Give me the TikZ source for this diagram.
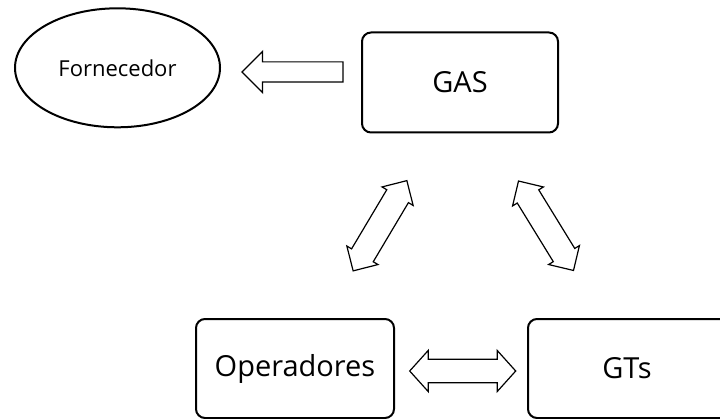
\documentclass[tikz,border=0pt]{standalone}
\usepackage{fontspec}
\setmainfont{Open Sans}
\usetikzlibrary{shapes.geometric,shapes.arrows}

\begin{document}
\begin{tikzpicture}[x=1pt, y=1pt,
        caixa/.style={draw, line width=2pt, rounded corners=9pt, minimum width=198pt, minimum height=100pt, font=\fontsize{29}{34}\selectfont},
        seta/.style={draw, line width=1.2pt, single arrow, single arrow tip angle=90, minimum width=0pt, inner xsep=0pt, sloped, allow upside down},
        setadupla/.style={draw, line width=1.2pt, double arrow, minimum width=0pt, inner xsep=0pt, sloped, allow upside down}]
        \useasboundingbox (0,0) rectangle (720,418);

        % caixas
        \node[ellipse, draw, line width=2pt, minimum width=205pt, minimum height=119pt, font=\fontsize{22}{26}\selectfont] (fornecedor) at (117.5,350.2) {Fornecedor};
        \node[caixa, minimum width=196pt] (gas) at (460,335.5) {GAS};
        \node[caixa, minimum height=99pt] (operadores) at (295,49.5) {Operadores};
        \node[caixa, minimum height=99pt, minimum width=230pt, anchor=west] (gts) at (527,49.5) {\hspace*{-32pt}GTs};

        % GAS -> Fornecedor
        \path ([yshift=10.5pt]gas.west) -- node[seta, inner ysep=9.5pt, single arrow head extend=10.5pt, minimum height=101pt] (setaforn) {} ([xshift=13pt,yshift=-4.2pt]fornecedor.east);

        % GAS <-> Operadores, GAS <-> GTs
        \path ([xshift=30.1pt]operadores.north) -- node[setadupla, inner ysep=12pt, double arrow head extend=5.5pt, double arrow tip angle=90, minimum height=105pt] (setaop) {} ([xshift=-25.1pt]gas.south);
        \path ([xshift=-40.3pt]gts.north) -- node[setadupla, inner ysep=12pt, double arrow head extend=5.5pt, double arrow tip angle=90, minimum height=105pt] (setagts) {} ([xshift=29.3pt]gas.south);

        % Operadores <-> GTs
        \path ([xshift=1.7pt,yshift=-2.5pt]operadores.east) -- node[setadupla, inner ysep=11.2pt, double arrow head extend=8.8pt, double arrow tip angle=96, minimum height=106pt] (setabaixo) {} ([xshift=1.7pt,yshift=-2.5pt]gts.west);
    \end{tikzpicture}
\end{document}
